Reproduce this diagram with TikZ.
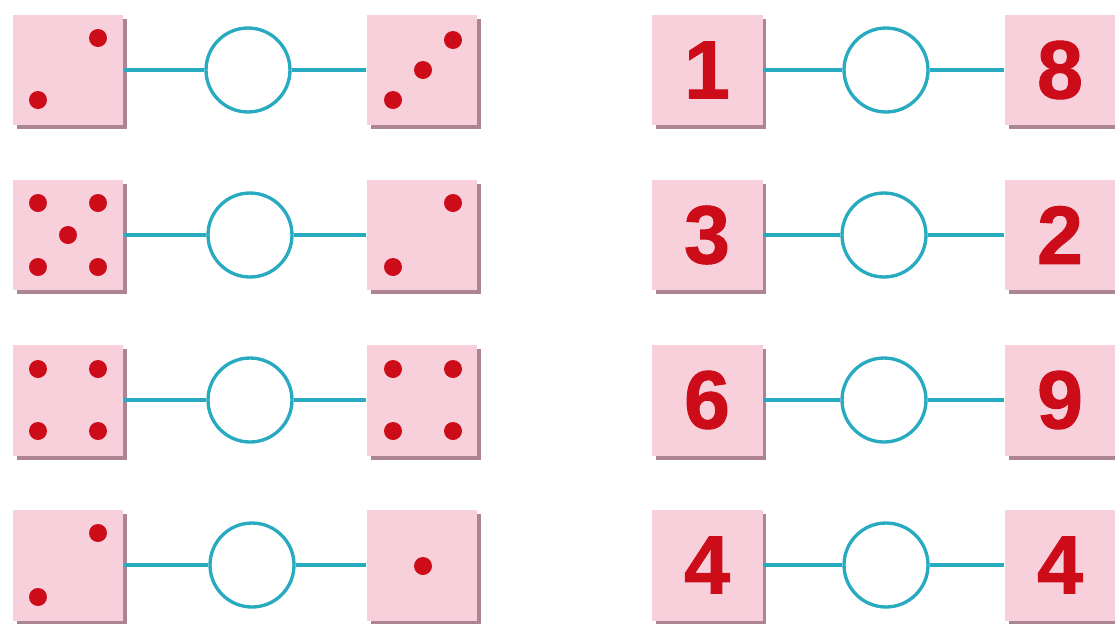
\documentclass[tikz,border=0pt]{standalone}
\usepackage{fontspec}
\setmainfont{Liberation Sans}
\newfontfamily\digitfont[BoldFeatures={FakeBold=1.2}]{Liberation Sans}
\usetikzlibrary{shadows}
\definecolor{facepink}{RGB}{248,208,219}
\definecolor{faceshadow}{RGB}{172,132,146}
\definecolor{pipred}{RGB}{204,12,24}
\definecolor{linkteal}{RGB}{40,170,192}

\begin{document}
\begin{tikzpicture}[x=0.02cm, y=-0.02cm,
    face/.style={rectangle, fill=facepink, minimum size=2.22cm, inner sep=0pt,
        drop shadow={shadow xshift=0.08cm, shadow yshift=-0.08cm, fill=faceshadow, opacity=1}},
    numbox/.style={face, text=pipred, font=\fontsize{47}{50}\digitfont\bfseries},
    ring/.style={circle, draw=linkteal, line width=1.9pt, fill=white, minimum size=1.68cm, inner sep=0pt},
    link/.style={draw=linkteal, line width=1.9pt},
    pip/.style={fill=pipred}
]
\useasboundingbox (0,0) rectangle (1115,623);

% dice pairs
\node[face] (a1) at (68,70) {};
\node[ring] (c1) at (248,70) {};
\node[face] (b1) at (422,70) {};
\node[face] (a2) at (68,235) {};
\node[ring] (c2) at (250,235) {};
\node[face] (b2) at (422,235) {};
\node[face] (a3) at (68,400) {};
\node[ring] (c3) at (250,400) {};
\node[face] (b3) at (422,400) {};
\node[face] (a4) at (68,565) {};
\node[ring] (c4) at (252,565) {};
\node[face] (b4) at (422,565) {};

% number pairs
\node[numbox] (n1) at (707,70) {1};
\node[ring] (r1) at (886,70) {};
\node[numbox] (m1) at (1060,70) {8};
\node[numbox] (n2) at (707,235) {3};
\node[ring] (r2) at (884,235) {};
\node[numbox] (m2) at (1060,235) {2};
\node[numbox] (n3) at (707,400) {6};
\node[ring] (r3) at (884,400) {};
\node[numbox] (m3) at (1060,400) {9};
\node[numbox] (n4) at (707,565) {4};
\node[ring] (r4) at (886,565) {};
\node[numbox] (m4) at (1060,565) {4};

% pips
\foreach \dx/\dy in {30/-32, -30/30}
  \fill[pip] (a1.center) ++(\dx,\dy) circle (0.18cm);
\foreach \dx/\dy in {-29/30, 1/0, 31/-30}
  \fill[pip] (b1.center) ++(\dx,\dy) circle (0.18cm);
\foreach \dx/\dy in {-30/-32, 30/-32, 0/0, -30/32, 30/32}
  \fill[pip] (a2.center) ++(\dx,\dy) circle (0.18cm);
\foreach \dx/\dy in {31/-32, -29/32}
  \fill[pip] (b2.center) ++(\dx,\dy) circle (0.18cm);
\foreach \dx/\dy in {-30/-31, 30/-31, -30/31, 30/31}
  \fill[pip] (a3.center) ++(\dx,\dy) circle (0.18cm);
\foreach \dx/\dy in {-29/-31, 31/-31, -29/31, 31/31}
  \fill[pip] (b3.center) ++(\dx,\dy) circle (0.18cm);
\foreach \dx/\dy in {30/-32, -30/32}
  \fill[pip] (a4.center) ++(\dx,\dy) circle (0.18cm);
\fill[pip] (b4.center) ++(1,1) circle (0.18cm);

% links
\foreach \i in {1,...,4} {
  \draw[link] (a\i) -- (c\i) -- (b\i);
  \draw[link] (n\i) -- (r\i) -- (m\i);
}
\end{tikzpicture}
\end{document}
